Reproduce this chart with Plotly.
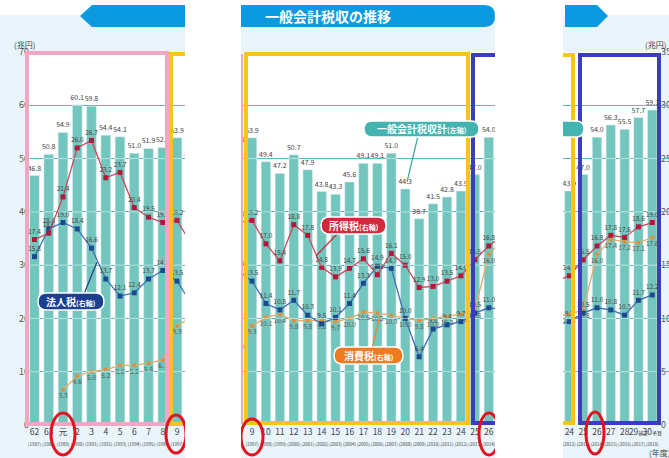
import plotly.graph_objects as go

W, H = 669, 458

# ---------------- data ----------------
era_labels = ["62", "63", "元", "2", "3", "4", "5", "6", "7", "8", "9", "10", "11", "12",
              "13", "14", "15", "16", "17", "18", "19", "20", "21", "22", "23", "24",
              "25", "26", "27", "28", "29<span style='font-size:5px'>補正</span>",
              "30<span style='font-size:5px'>予算</span>"]
western_years = ["1987", "1988", "1989", "1990", "1991", "1992", "1993", "1994", "1995",
                 "1996", "1997", "1998", "1999", "2000", "2001", "2002", "2003", "2004",
                 "2005", "2006", "2007", "2008", "2009", "2010", "2011", "2012", "2013",
                 "2014", "2015", "2016", "2017", "2018"]
total_tax = [46.8, 50.8, 54.9, 60.1, 59.8, 54.4, 54.1, 51.0, 51.9, 52.1, 53.9, 49.4, 47.2,
             50.7, 47.9, 43.8, 43.3, 45.6, 49.1, 49.1, 51.0, 44.3, 38.7, 41.5, 42.8, 43.9,
             47.0, 54.0, 56.3, 55.5, 57.7, 59.1]
income_tax = [17.4, 18.0, 21.4, 26.0, 26.7, 23.2, 23.7, 20.4, 19.5, 19.0, 19.2, 17.0, 15.4,
              18.8, 17.8, 14.8, 13.9, 14.7, 15.6, 14.1, 16.1, 15.0, 12.9, 13.0, 13.5, 14.0,
              15.5, 16.8, 17.8, 17.6, 18.6, 19.0]
corporate_tax = [15.8, 18.4, 19.0, 18.4, 16.6, 13.7, 12.1, 12.4, 13.7, 14.5, 13.5, 11.4, 10.8,
                 11.7, 10.3, 9.5, 10.1, 11.4, 13.3, 14.9, 14.7, 10.0, 6.4, 9.0, 9.4, 9.7,
                 10.5, 11.0, 10.8, 10.3, 11.7, 12.2]
consumption_tax = [None, None, 3.3, 4.6, 5.0, 5.2, 5.6, 5.6, 5.8, 6.1, 9.3, 10.1, 10.4, 9.8,
                   9.8, 9.8, 9.7, 10.0, 10.6, 10.5, 10.3, 10.0, 9.8, 10.0, 10.2, 10.4, 10.8,
                   16.0, 17.4, 17.2, 17.1, 17.6]
grid_levels = [10, 20, 30, 40, 50, 60]

idx = list(range(len(era_labels)))
ticktext = [f"{e}<br><span style='font-size:4.5px'>({w})</span>" for e, w in zip(era_labels, western_years)]

FONT = "Noto Sans CJK JP, Noto Sans, sans-serif"
BAR = "#72c6be"
GRID = "#5cbcb7"
RED_L, RED_M = "#c94a5c", "#b5173a"
BLUE_L, BLUE_M = "#3f6fb6", "#1d4a8e"
ORG_L, ORG_M = "#e9aa66", "#e08f3a"
BAR_W = 0.68


def px(x):
    return x / W


def py(y):
    return 1 - y / H


fig = go.Figure()

for xa in ["x", "x2", "x3"]:
    fig.add_trace(go.Bar(x=idx, y=total_tax, xaxis=xa, yaxis="y", marker_color=BAR,
                         width=BAR_W, text=[f"{v:.1f}" for v in total_tax],
                         textposition="outside", constraintext="none", cliponaxis=True,
                         textfont=dict(size=7, color="#444", family=FONT),
                         showlegend=False, hoverinfo="skip"))
for xa in ["x", "x2", "x3"]:
    fig.add_trace(go.Scatter(x=idx, y=consumption_tax, xaxis=xa, yaxis="y2", mode="lines+markers+text",
                             line=dict(color=ORG_L, width=1.3), marker=dict(color=ORG_M, size=4),
                             text=[("" if v is None else f"{v:.1f}") for v in consumption_tax],
                             textposition="bottom center", cliponaxis=True,
                             textfont=dict(size=6.5, color="#555", family=FONT),
                             showlegend=False, hoverinfo="skip", connectgaps=False))
    fig.add_trace(go.Scatter(x=idx, y=corporate_tax, xaxis=xa, yaxis="y2", mode="lines+markers+text",
                             line=dict(color=BLUE_L, width=1.3),
                             marker=dict(color=BLUE_M, size=5, symbol="square"),
                             text=[f"{v:.1f}" for v in corporate_tax], textposition="top center",
                             cliponaxis=True, textfont=dict(size=6.5, color="#444", family=FONT),
                             showlegend=False, hoverinfo="skip"))
    fig.add_trace(go.Scatter(x=idx, y=income_tax, xaxis=xa, yaxis="y2", mode="lines+markers+text",
                             line=dict(color=RED_L, width=1.3),
                             marker=dict(color=RED_M, size=5, symbol="square"),
                             text=[f"{v:.1f}" for v in income_tax], textposition="top center",
                             cliponaxis=True, textfont=dict(size=6.5, color="#444", family=FONT),
                             showlegend=False, hoverinfo="skip"))

ranges = {"x": [-0.526, 10.56], "x2": [9.282, 27.444], "x3": [24.54, 32.21]}
xcommon = dict(tickmode="array", tickvals=idx, ticktext=ticktext, showgrid=False, zeroline=False,
               ticks="", showline=False, tickangle=0, automargin=False,
               tickfont=dict(size=8.5, color="#444", family=FONT),
               anchor="y", fixedrange=True)
fig.update_layout(
    xaxis=dict(domain=[px(27), px(185)], range=ranges["x"], **xcommon),
    xaxis2=dict(domain=[px(242), px(495)], range=ranges["x2"], **xcommon),
    xaxis3=dict(domain=[px(563), px(669)], range=ranges["x3"], **xcommon),
    yaxis=dict(domain=[py(425), py(52)], range=[0, 70], dtick=10, anchor="free",
               position=px(29), side="left", showgrid=True, gridcolor=GRID, gridwidth=1,
               zeroline=False, ticks="", showline=False, fixedrange=True, automargin=False,
               tickfont=dict(size=9, color="#555", family=FONT)),
    yaxis2=dict(domain=[py(425), py(52)], range=[0, 35], dtick=5, overlaying="y",
                anchor="free", position=px(660), side="right", showgrid=False,
                zeroline=False, ticks="", showline=False, fixedrange=True, automargin=False,
                tickfont=dict(size=9, color="#555", family=FONT)),
    width=W, height=H, margin=dict(l=0, r=0, t=0, b=0, pad=0), autosize=False,
    paper_bgcolor="white", plot_bgcolor="rgba(0,0,0,0)",
    barmode="overlay", showlegend=False, font=dict(family=FONT),
)

shapes = []
LB = "#e9f4fb"


def rect(x0, y0, x1, y1, fill="rgba(0,0,0,0)", layer="below", color=None, width=0):
    shapes.append(dict(type="rect", xref="paper", yref="paper", x0=px(x0), x1=px(x1),
                       y0=py(y1), y1=py(y0), fillcolor=fill, layer=layer,
                       line=dict(width=width, color=color or "rgba(0,0,0,0)")))


def line(x0, y0, x1, y1, color, width, layer="above"):
    shapes.append(dict(type="line", xref="paper", yref="paper", x0=px(x0), x1=px(x1),
                       y0=py(y0), y1=py(y1), layer=layer, line=dict(color=color, width=width)))


def poly(pts, fill, layer="above"):
    p = "M" + " L".join(f"{px(x):.5f},{py(y):.5f}" for x, y in pts) + " Z"
    shapes.append(dict(type="path", xref="paper", yref="paper", path=p, fillcolor=fill,
                       layer=layer, line=dict(width=0)))


def pill(x0, y0, x1, y1, fill, border=None, bw=0):
    r = (y1 - y0) / 2
    P = lambda x, y: f"{px(x):.5f},{py(y):.5f}"
    p = (f"M{P(x0 + r, y0)} L{P(x1 - r, y0)} Q{P(x1, y0)} {P(x1, y0 + r)} "
         f"Q{P(x1, y1)} {P(x1 - r, y1)} L{P(x0 + r, y1)} Q{P(x0, y1)} {P(x0, y0 + r)} "
         f"Q{P(x0, y0)} {P(x0 + r, y0)} Z")
    shapes.append(dict(type="path", xref="paper", yref="paper", path=p, fillcolor=fill,
                       layer="above", line=dict(width=bw, color=border or "rgba(0,0,0,0)")))


def ellipse(cx, cy, w, h):
    shapes.append(dict(type="circle", xref="paper", yref="paper", x0=px(cx - w / 2),
                       x1=px(cx + w / 2), y0=py(cy + h / 2), y1=py(cy - h / 2),
                       layer="above", line=dict(color="#e0141e", width=3)))


# backgrounds
rect(0, 15, 185, 458, LB)
rect(241, 20, 495, 458, LB)
rect(563, 15, 669, 458, LB)
rect(27, 52, 185, 425, "white")
rect(242, 52, 495, 425, "white")
rect(563, 52, 659, 425, "white")

# light grid segments across the bars (gridlines show through the bars in the original)
for xa, (r0, r1) in ranges.items():
    for i, v in zip(idx, total_tax):
        if r0 - 0.5 <= i <= r1 + 0.5:
            for g in grid_levels:
                if g < v:
                    shapes.append(dict(type="line", xref=xa, yref="y", x0=i - BAR_W / 2,
                                       x1=i + BAR_W / 2, y0=g, y1=g, layer="above",
                                       line=dict(color="rgba(255,255,255,0.5)", width=1)))

# frames
PINK, YEL, IND = "#f2a6c3", "#f6c41a", "#3b3cbf"
rect(27, 53, 167, 424, layer="above", color=PINK, width=4)
line(171, 424, 171, 54, YEL, 4)
line(169, 54, 190, 54, YEL, 4)
line(169, 424, 190, 424, YEL, 4)
line(242, 54, 242, 424, PINK, 2)
rect(246, 54, 468, 423, layer="above", color=YEL, width=4)
line(473, 423, 473, 55, IND, 4)
line(471, 55, 500, 55, IND, 4)
line(471, 423, 500, 423, IND, 4)
line(573, 55, 573, 423, YEL, 4)
line(560, 55, 575, 55, YEL, 4)
line(560, 423, 575, 423, YEL, 4)
rect(580, 55, 659, 423, layer="above", color=IND, width=4)

# red circles
ellipse(63, 434, 24, 42)
ellipse(176, 434, 20, 38)
ellipse(252, 437, 22, 36)
ellipse(489, 434, 20, 42)
ellipse(595, 433, 18, 42)

# pointer lines
line(97, 262, 84, 294, "#1d3f86", 1.2)
line(338, 233, 316, 256, "#c9283a", 1.2)
line(418, 136, 407, 182, "#3aa9a5", 1.2)
line(372, 348, 380, 316, "#e6822a", 1.2)

# label pills
pill(38, 293, 104, 310, "#1b3f8d", "white", 1.5)
pill(321, 217, 386, 234, "#d4283c", "white", 1.5)
pill(364, 121, 479, 137, "#44b4b0", "white", 1.5)
pill(334, 347, 403, 364, "#ec7a20", "white", 1.5)
pill(550, 121, 584, 137, "#44b4b0", "white", 1.5)

# gap masks
rect(185, 0, 241, 458, "white", layer="above")
rect(495, 0, 563, 458, "white", layer="above")

# banners
poly([(80, 16), (92, 5), (185, 5), (185, 27), (92, 27)], "#0b9ae0")
pill(241, 5, 495, 27, "#0b9ae0")
poly([(241, 5), (260, 5), (260, 27), (241, 27)], "#0b9ae0")
poly([(565, 5), (597, 5), (608, 16), (597, 27), (565, 27)], "#0b9ae0")

fig.update_layout(shapes=shapes)

ann = []


def text(x, y, s, size, color, xanchor="center", bold=False):
    ann.append(dict(x=px(x), y=py(y), xref="paper", yref="paper", text=(f"<b>{s}</b>" if bold else s),
                    showarrow=False, xanchor=xanchor, yanchor="middle",
                    font=dict(size=size, color=color, family=FONT)))


text(328, 16, "一般会計税収の推移", 14, "white", bold=True)
text(71, 301.5, "法人税<span style='font-size:7px'>(右軸)</span>", 10, "white", bold=True)
text(353.5, 225.5, "所得税<span style='font-size:7px'>(右軸)</span>", 10, "white", bold=True)
text(421.5, 129, "一般会計税収計<span style='font-size:7px'>(左軸)</span>", 10, "white", bold=True)
text(368.5, 355.5, "消費税<span style='font-size:7px'>(右軸)</span>", 10, "white", bold=True)
text(12, 44, "(兆円)", 8, "#444", xanchor="left")
text(643, 44, "(兆円)", 8, "#444", xanchor="left")
text(647, 452, "(年度)", 8, "#444", xanchor="left")
fig.update_layout(annotations=ann)

post = ("document.documentElement.style.overflow='hidden';"
        "document.body.style.margin='0';document.body.style.overflow='hidden';")
fig.write_html("out.html", config={"displayModeBar": False}, post_script=post)
